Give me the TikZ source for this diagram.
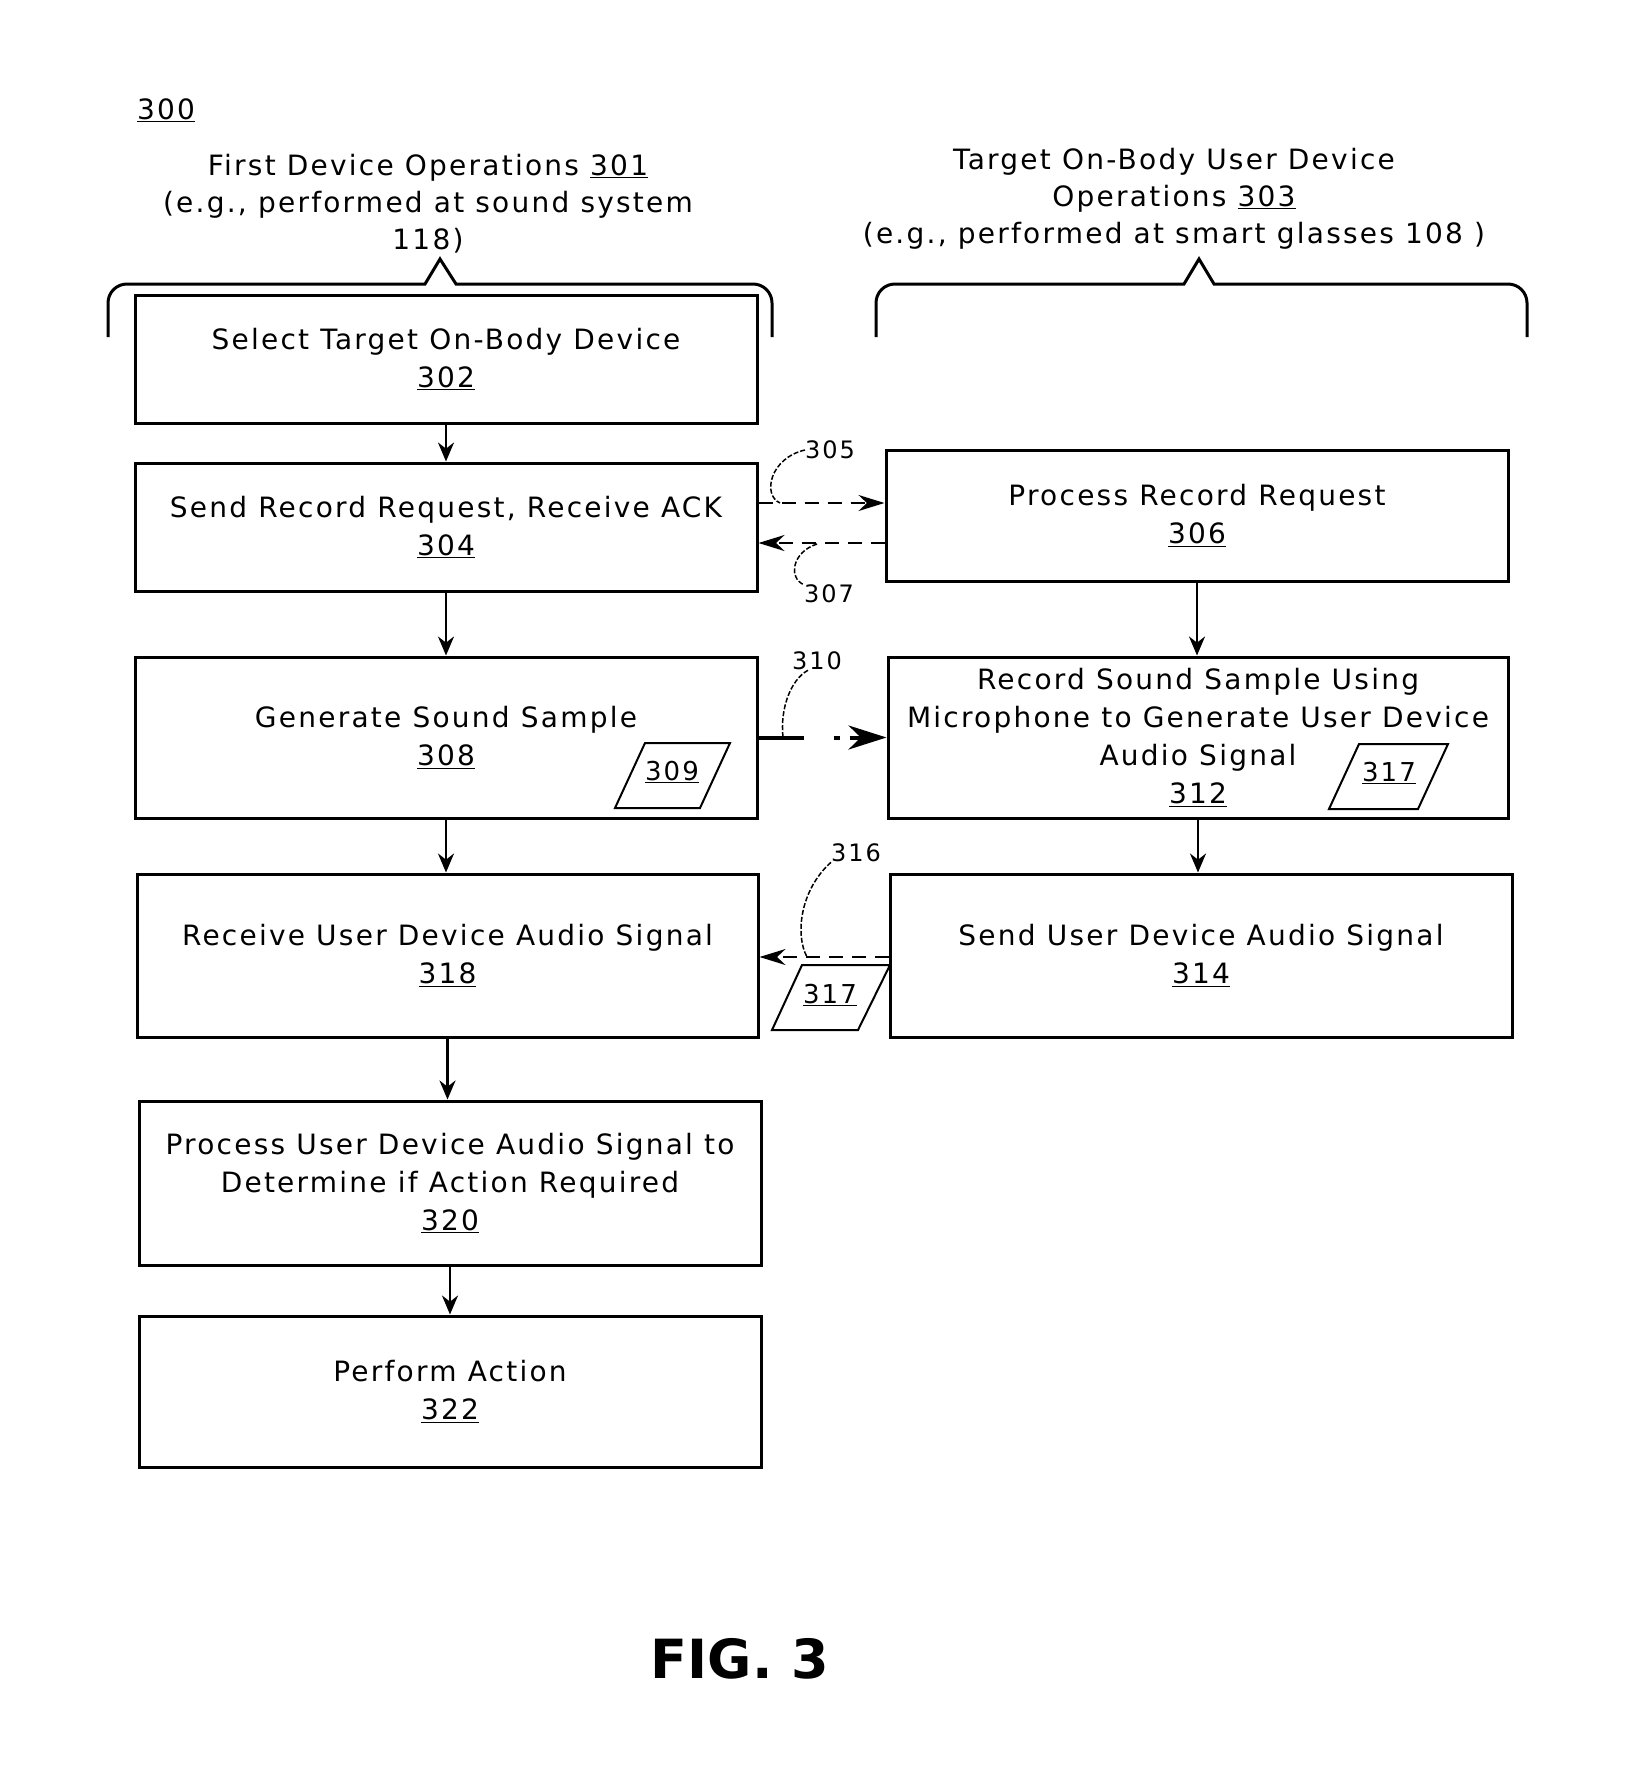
\documentclass[tikz,border=0pt]{standalone}
\usepackage{fontspec}
\setmainfont{DejaVu Sans}[LetterSpace=8]
\newfontfamily\figfont{DejaVu Sans}
\usetikzlibrary{arrows.meta}
\begin{document}
\begin{tikzpicture}[x=1pt,y=-1pt,
  box/.style={draw, line width=3pt, inner sep=0pt, align=center, font=\fontsize{28}{38}\selectfont},
  hdr/.style={align=center, inner sep=0pt, font=\fontsize{28}{37}\selectfont},
  lbl/.style={inner sep=0pt, font=\fontsize{24}{28}\selectfont},
  plbl/.style={inner sep=0pt, font=\fontsize{26}{30}\selectfont},
  flow/.style={line width=2.5pt, -{Stealth[length=19pt,width=16pt]}},
  dflow/.style={line width=2.2pt, dash pattern=on 14pt off 9pt, -{Stealth[length=26pt,width=16pt]}},
  bflow/.style={line width=4pt, dash pattern=on 45pt off 30pt on 6pt off 10pt, -{Stealth[length=38pt,width=24pt]}},
  leader/.style={line width=1.5pt, dash pattern=on 5pt off 2pt},
  para/.style={line width=2pt, line join=miter},
  brace/.style={line width=3pt}]

\useasboundingbox (0,0) rectangle (1646,1791);

% label and headers
\node[inner sep=0pt, font=\fontsize{28}{34}\selectfont] (n300) at (166,110) {\underline{300}};
\node[hdr] (h301) at (428,204) {First Device Operations \underline{301}\\(e.g., performed at sound system\\118)};
\node[hdr] (h303) at (1174,199) {Target On-Body User Device\\Operations \underline{303}\\(e.g., performed at smart glasses 108 )};

% braces
\draw[brace] (108,337) -- (108,303) to[out=90,in=180] (127,284) -- (425,284) -- (440,259) -- (456,284) -- (753,284) to[out=0,in=90] (772,303) -- (772,337);
\draw[brace] (876,337) -- (876,303) to[out=90,in=180] (895,284) -- (1184,284) -- (1199,259) -- (1214,284) -- (1508,284) to[out=0,in=90] (1527,303) -- (1527,337);

% boxes
\node[box, minimum width=622pt, minimum height=128pt] (b302) at (446,359) {Select Target On-Body Device\\\underline{302}};
\node[box, minimum width=622pt, minimum height=128pt] (b304) at (446,527) {Send Record Request, Receive ACK\\\underline{304}};
\node[box, minimum width=622pt, minimum height=131pt] (b306) at (1197,515.5) {Process Record Request\\\underline{306}};
\node[box, minimum width=622pt, minimum height=161pt] (b308) at (446,737.5) {Generate Sound Sample\\\underline{308}};
\node[box, minimum width=620pt, minimum height=161pt] (b312) at (1198,737.5) {Record Sound Sample Using\\Microphone to Generate User Device\\Audio Signal\\\underline{312}};
\node[box, minimum width=621pt, minimum height=163pt] (b318) at (447.5,955.5) {Receive User Device Audio Signal\\\underline{318}};
\node[box, minimum width=622pt, minimum height=163pt] (b314) at (1201,955.5) {Send User Device Audio Signal\\\underline{314}};
\node[box, minimum width=622pt, minimum height=164pt] (b320) at (450,1183) {Process User Device Audio Signal to\\Determine if Action Required\\\underline{320}};
\node[box, minimum width=622pt, minimum height=151pt] (b322) at (450,1391.5) {Perform Action\\\underline{322}};

% parallelograms
\draw[para] (645,743) -- (730,743) -- (700,808) -- (615,808) -- cycle;
\node[plbl] (p309) at (672,772) {\underline{309}};
\draw[para] (1359,744) -- (1448,744) -- (1418,809) -- (1329,809) -- cycle;
\node[plbl] (p317a) at (1389,773) {\underline{317}};
\draw[para] (802,965) -- (890,965) -- (858,1030) -- (772,1030) -- cycle;
\node[plbl] (p317b) at (830,995) {\underline{317}};

% vertical flow
\draw[flow] (b302.south) -- (b304.north);
\draw[flow] (b304.south) -- (b308.north);
\draw[flow] (b306.south) -- (b306.south |- b312.north);
\draw[flow] (b308.south) -- (b308.south |- b318.north);
\draw[flow] (b312.south) -- (b312.south |- b314.north);
\draw[flow] (b318.south) -- (b318.south |- b320.north);
\draw[flow] (b320.south) -- (b320.south |- b322.north);

% horizontal messages
\coordinate (s305) at ([yshift=24pt]b304.east);
\draw[dflow] (s305) -- (s305 -| b306.west);
\coordinate (s307) at ([yshift=-27.5pt]b306.west);
\draw[dflow] (s307) -- (s307 -| b304.east);
\draw[bflow] (b308.east) -- (b308.east -| b312.west);
\coordinate (s316) at ([yshift=-1.5pt]b314.west);
\draw[dflow] (s316) -- (s316 -| b318.east);

% reference labels with leaders
\node[lbl] (l305) at (830,450) {305};
\draw[leader] (l305.west) .. controls (770,458) and (762,495) .. (780,503);
\node[lbl] (l307) at (829,594) {307};
\coordinate (c307) at (817,544);
\draw[leader] (c307) .. controls (792,552) and (788,578) .. (l307.north west);
\node[lbl] (l310) at (817,661) {310};
\coordinate (c310) at (783,737);
\draw[leader] ([xshift=16pt]l310.south west) .. controls (790,680) and (780,710) .. (c310);
\node[lbl] (l316) at (856,853) {316};
\coordinate (c316) at (807,957);
\draw[leader] (l316.south west) .. controls (800,890) and (795,935) .. (c316);

% caption
\node[inner sep=0pt, font=\figfont\bfseries\fontsize{54}{60}\selectfont] (fig) at (740,1659) {FIG. 3};
\end{tikzpicture}
\end{document}
